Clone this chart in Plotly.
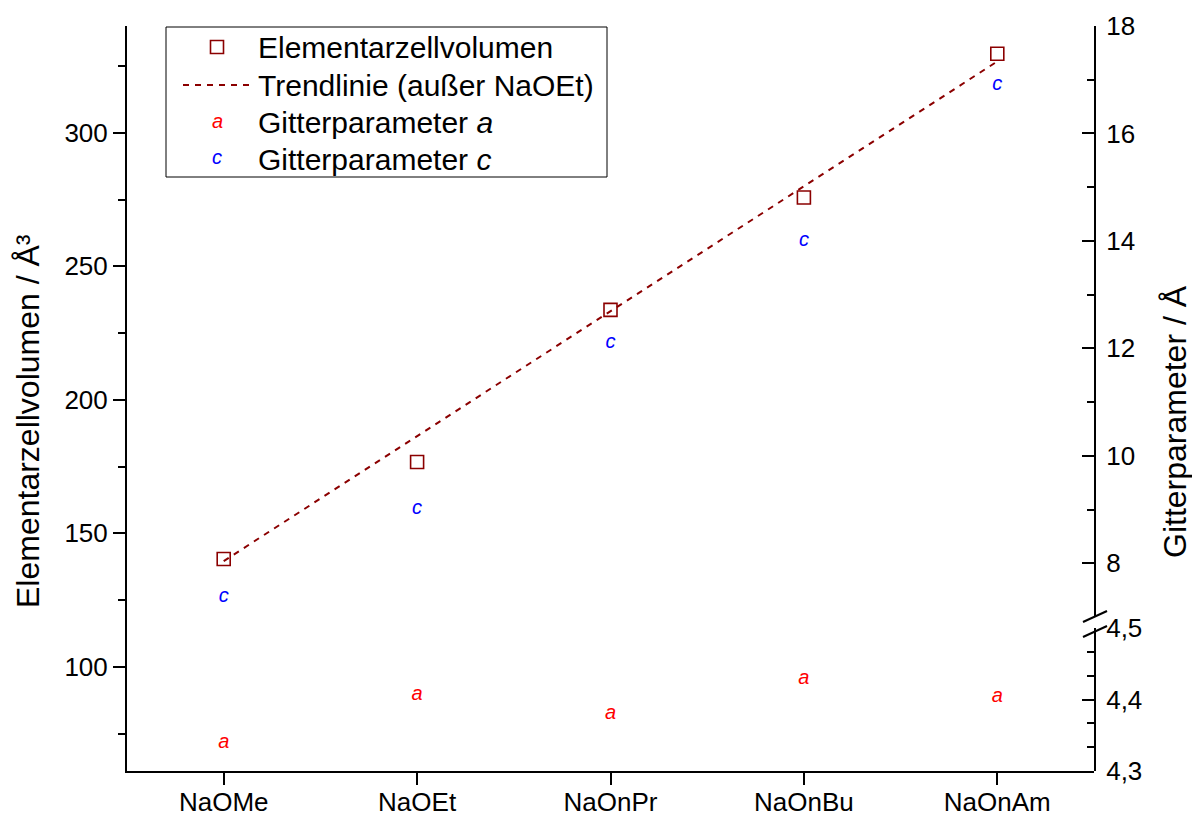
import numpy as np
import plotly.graph_objects as go

# --- data ---------------------------------------------------------------
compounds = ["NaOMe", "NaOEt", "NaOnPr", "NaOnBu", "NaOnAm"]
cell_volume = [140.4, 176.7, 233.7, 275.8, 329.6]      # Å³
lattice_c = [7.38, 9.01, 12.10, 13.99, 16.91]           # Å
lattice_a = [4.339, 4.406, 4.380, 4.429, 4.403]         # Å

# linear trend of the cell volume, NaOEt excluded
fit_idx = [i for i, n in enumerate(compounds) if n != "NaOEt"]
slope, intercept = np.polyfit(fit_idx, [cell_volume[i] for i in fit_idx], 1)
trend_x = [compounds[0], compounds[-1]]
trend_y = [intercept + slope * 0, intercept + slope * (len(compounds) - 1)]

# --- styling ------------------------------------------------------------
W, H = 1192, 816
L, R, T, B = 127, 1094, 26, 771
FONT = "Liberation Sans, Arial, sans-serif"
MAROON = "#8B0000"
RED = "#FF0000"
BLUE = "#0000FF"
GLYPH_SIZE = 20


def px(x):
    return (x - L) / (R - L)


def py(y):
    return (B - y) / (B - T)


fig = go.Figure()

fig.add_trace(go.Scatter(
    x=trend_x, y=trend_y, mode="lines", xaxis="x", yaxis="y",
    line=dict(color=MAROON, width=2, dash="6px,6px"), showlegend=False))

fig.add_trace(go.Scatter(
    x=compounds, y=cell_volume, mode="markers", xaxis="x", yaxis="y",
    marker=dict(symbol="square-open", size=13, color=MAROON,
                line=dict(width=1.6, color=MAROON)),
    showlegend=False))

fig.add_trace(go.Scatter(
    x=compounds, y=lattice_c, mode="text", text=["c"] * len(compounds),
    textposition="middle center", xaxis="x", yaxis="y2",
    textfont=dict(family=FONT, size=GLYPH_SIZE, color=BLUE, style="italic"),
    showlegend=False))

fig.add_trace(go.Scatter(
    x=compounds, y=lattice_a, mode="text", text=["a"] * len(compounds),
    textposition="middle center", xaxis="x", yaxis="y3",
    textfont=dict(family=FONT, size=GLYPH_SIZE, color=RED, style="italic"),
    showlegend=False))

tick_font = dict(family=FONT, size=26, color="black")
axis_common = dict(showline=True, linewidth=2, linecolor="black",
                   showgrid=False, zeroline=False, tickwidth=2,
                   tickcolor="black", tickfont=tick_font, automargin=False)

fig.update_layout(
    width=W, height=H,
    margin=dict(l=L, r=W - R, t=T, b=H - B, autoexpand=False),
    paper_bgcolor="white", plot_bgcolor="rgba(0,0,0,0)",
    separators=",.",
    showlegend=False,
    xaxis=dict(type="category", categoryorder="array", categoryarray=compounds,
               range=[-0.5, len(compounds) - 0.5], anchor="y", domain=[0, 1],
               ticks="outside", ticklen=12, ticklabelstandoff=-5, **axis_common),
    yaxis=dict(range=[61, 340], tick0=0, dtick=50, anchor="x", domain=[0, 1],
               ticks="outside", ticklen=12, ticklabelstandoff=0,
               minor=dict(tick0=0, dtick=25, ticks="outside", ticklen=7,
                          tickwidth=2, tickcolor="black"),
               **axis_common),
    yaxis2=dict(range=[7, 18], tick0=0, dtick=2, anchor="x", side="right",
                domain=[py(617), 1], ticks="inside", ticklen=12,
                ticklabelstandoff=5,
                minor=dict(tick0=0, dtick=1, ticks="inside", ticklen=7,
                           tickwidth=2, tickcolor="black"),
                **axis_common),
    yaxis3=dict(range=[4.3, 4.5], tick0=4.3, dtick=0.1, tickformat=".1f",
                anchor="x", side="right", domain=[0, py(628)],
                ticks="inside", ticklen=12, ticklabelstandoff=5,
                minor=dict(tick0=4.3, dtick=0.1 / 3, ticks="inside", ticklen=7,
                           tickwidth=2, tickcolor="black"),
                **axis_common),
)

shapes = []
annotations = []

# axis break marks on the right axis
for y0, y1 in [(622, 611), (637, 626)]:
    shapes.append(dict(type="line", xref="paper", yref="paper",
                       x0=px(1083), y0=py(y0), x1=px(1107), y1=py(y1),
                       line=dict(color="black", width=2)))

# axis titles
title_font = dict(family=FONT, size=32, color="black")
annotations.append(dict(text="Elementarzellvolumen / Å³", xref="paper", yref="paper",
                        x=px(28), y=py(421), textangle=-90, showarrow=False,
                        font=title_font, xanchor="center", yanchor="middle"))
annotations.append(dict(text="Gitterparameter / Å", xref="paper", yref="paper",
                        x=px(1175), y=py(422), textangle=-90, showarrow=False,
                        font=title_font, xanchor="center", yanchor="middle"))

# legend box
shapes.append(dict(type="rect", xref="paper", yref="paper",
                   x0=px(166), x1=px(607), y0=py(177), y1=py(27),
                   line=dict(color="black", width=1), fillcolor="white",
                   layer="above"))
rows = [47, 85, 123, 159]
labels = ["Elementarzellvolumen", "Trendlinie (außer NaOEt)",
          "Gitterparameter <i>a</i>", "Gitterparameter <i>c</i>"]
legend_font = dict(family=FONT, size=30, color="black")
for yrow, lab in zip(rows, labels):
    annotations.append(dict(text=lab, xref="paper", yref="paper", x=px(256),
                            y=py(yrow), xanchor="left", yanchor="middle",
                            showarrow=False, font=legend_font))
shapes.append(dict(type="rect", xref="paper", yref="paper",
                   x0=px(210.5), x1=px(223.5), y0=py(53.5), y1=py(40.5),
                   line=dict(color=MAROON, width=1.6), layer="above"))
shapes.append(dict(type="line", xref="paper", yref="paper",
                   x0=px(183), x1=px(252), y0=py(85), y1=py(85),
                   line=dict(color=MAROON, width=2, dash="6px,6px"),
                   layer="above"))
annotations.append(dict(text="<i>a</i>", xref="paper", yref="paper", x=px(217),
                        y=py(121), xanchor="center", yanchor="middle",
                        showarrow=False,
                        font=dict(family=FONT, size=GLYPH_SIZE, color=RED)))
annotations.append(dict(text="<i>c</i>", xref="paper", yref="paper", x=px(217),
                        y=py(157), xanchor="center", yanchor="middle",
                        showarrow=False,
                        font=dict(family=FONT, size=GLYPH_SIZE, color=BLUE)))

fig.update_layout(shapes=shapes, annotations=annotations)

fig.write_html("out.html")
